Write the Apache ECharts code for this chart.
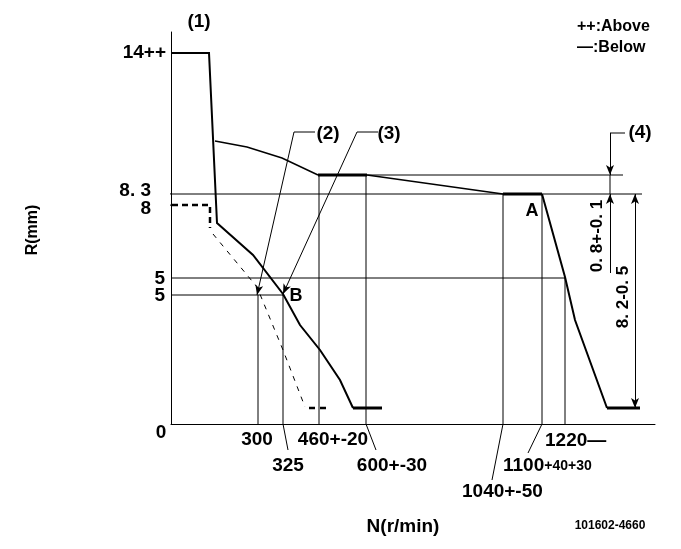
<!DOCTYPE html>
<html><head><meta charset="utf-8">
<script src="https://cdn.jsdelivr.net/npm/echarts@6/dist/echarts.min.js"></script>
<style>html,body{margin:0;padding:0;background:#fff}#c{width:681px;height:549px}</style>
</head><body><div id="c"></div>
<script>
// Schematic diagram coordinates: x = position along N (r/min) axis, y = position along R (mm) axis
// (the drawing is not to scale, so the units are diagram units, not r/min or mm)
const mainCurve   = [[0,371],[38,371],[46,201],[82,169],[112,130],[129,99],[149,74],[169,44],[182,16]];
const mainFlat    = [[182,16],[211,16]];
const dashStep    = [[1,219],[39,219],[39,196]];
const dashCurve   = [[42,190],[86,137],[112,74],[134,17]];
const dashFlat    = [[138,16],[159,16]];
const upperCurve  = [[44,283],[76,277],[111,266],[147,249]];
const upperFlat   = [[147,249],[196,249]];
const upperDesc   = [[196,249],[332,230]];
const flatA       = [[332,230],[371,230]];
const fallCurve   = [[371,230],[394,147],[404,104],[436,16]];
const endFlat     = [[436,16],[469,16]];

// thin reference lines
const refLines = [
  [[0,230],[471,230]],
  [[147,249],[452,249]],
  [[0,146],[394,146]],
  [[0,129],[112,129]],
  [[87,129],[87,0]],
  [[112,129],[112,0],[117,-26]],
  [[148,249],[148,0]],
  [[195,249],[195,0],[205,-26]],
  [[332,230],[332,0],[321,-56]],
  [[371,230],[371,0],[357,-29]],
  [[394,146],[394,0]],
  [[-17,233],[0,230]],
  [[-17,215],[0,219]],
  [[123,292],[144,292]],
  [[186,292],[207,292]],
  [[439,291],[454,291]],
  [[439,249],[439,230]]
];
// leader arrows [from, to]
const arrows = [
  [[123,292],[86,129]],
  [[186,292],[112,130]],
  [[439,291],[439,249]],
  [[439,151],[439,230]],
  [[464,123],[464,230]],
  [[464,123],[464,16]]
];

// text labels
const yLabels = ['14++','8. 3','8','5','5','0'];
const xLabels = ['300','325','460+-20','600+-30','1040+-50','1220—'];
const legendTexts = ['++:Above','—:Below'];
const markTexts = ['(1)','(2)','(3)','(4)','A','B'];
const dimTexts = ['0. 8+-0. 1','8. 2-0. 5'];

const FN = "'Liberation Sans Narrow','Liberation Sans',sans-serif";
const FW = "'Liberation Sans',sans-serif";
const f19 = 'bold 19px ' + FN;

function seg(data, width, type) {
  return {type:'line', data:data, symbol:'none', clip:false, silent:true, animation:false,
    lineStyle:{color:'#000', width:width, type:type||'solid', cap:'butt', join:'miter'}};
}
const series = [
  seg(mainCurve, 2), seg(mainFlat, 3),
  seg(dashStep, 2.5, [6,4]), seg(dashCurve, 1, [5,6]), seg(dashFlat, 2.5, [6,5]),
  seg(upperCurve, 1.5), seg(upperFlat, 3), seg(upperDesc, 1.5), seg(flatA, 3),
  seg(fallCurve, 2), seg(endFlat, 3)
];
refLines.forEach(l => series.push(seg(l, 1)));
series.push({type:'line', data:[], symbol:'none', silent:true, animation:false,
  markLine:{silent:true, animation:false, symbol:['none','arrow'], symbolSize:[6,10], precision:5,
    label:{show:false}, lineStyle:{color:'#000', width:1, type:'solid'},
    emphasis:{disabled:true},
    data: arrows.map(a => [{coord:a[0]},{coord:a[1]}])}});

function txt(text, x, y, font, align, rot, rich) {
  const st = {text:text, font:font, fill:'#000', align:align||'center', textAlign:align||'center',
    verticalAlign:'middle', textVerticalAlign:'middle'};
  if (rich) st.rich = rich;
  return {type:'text', x:x, y:y, rotation:rot||0, silent:true, style:st};
}
const g = [
  txt(markTexts[0], 199, 22, f19),
  txt(markTexts[1], 328, 134, f19),
  txt(markTexts[2], 389, 134, f19),
  txt(markTexts[3], 640, 133, f19),
  txt(markTexts[4], 532, 211, 'bold 18px ' + FN),
  txt(markTexts[5], 296, 296, 'bold 18px ' + FN),
  txt(yLabels[0], 166, 53, f19, 'right'),
  txt(yLabels[1], 151, 191, f19, 'right'),
  txt(yLabels[2], 151, 209, f19, 'right'),
  txt(yLabels[3], 165, 279, f19, 'right'),
  txt(yLabels[4], 165, 296, f19, 'right'),
  txt(yLabels[5], 161, 433, f19),
  txt(xLabels[0], 257, 440, f19),
  txt(xLabels[1], 288, 466, f19),
  txt(xLabels[2], 333, 440, f19),
  txt(xLabels[3], 392, 466, f19),
  txt(xLabels[4], 462, 492, f19, 'left'),
  txt(xLabels[5], 545, 441, f19, 'left'),
  txt('{a|1100}{b|+40+30}', 503, 466, f19, 'left', 0,
      {a:{font:f19, fill:'#000'}, b:{font:'bold 14px ' + FN, fill:'#000'}}),
  txt(legendTexts[0], 577, 27, 'bold 16px ' + FW, 'left'),
  txt(legendTexts[1], 577, 48, 'bold 16px ' + FW, 'left'),
  txt(dimTexts[0], 597, 236, 'bold 17px ' + FN, 'center', Math.PI/2),
  txt(dimTexts[1], 623, 297, 'bold 17px ' + FN, 'center', Math.PI/2),
  txt('R(mm)', 33, 230, 'bold 16px ' + FW, 'center', Math.PI/2),
  txt('N(r/min)', 403, 527, 'bold 19px ' + FW),
  txt('101602-4660', 610, 526, 'bold 12px ' + FW)
];

const chart = echarts.init(document.getElementById('c'), null, {renderer:'canvas'});
chart.setOption({
  animation:false,
  backgroundColor:'#fff',
  grid:{left:171, top:32, width:484, height:392},
  xAxis:{type:'value', min:0, max:484, axisLine:{show:true, onZero:false, lineStyle:{color:'#000', width:1}},
    axisTick:{show:false}, axisLabel:{show:false}, splitLine:{show:false}},
  yAxis:{type:'value', min:0, max:392, axisLine:{show:true, onZero:false, lineStyle:{color:'#000', width:1}},
    axisTick:{show:false}, axisLabel:{show:false}, splitLine:{show:false}},
  series: series,
  graphic: g
});
</script>
</body></html>
